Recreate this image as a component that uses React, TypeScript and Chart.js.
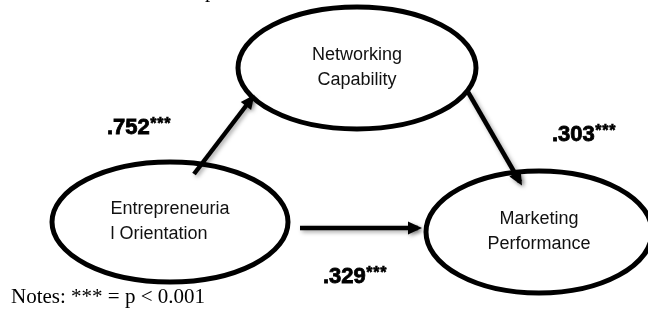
import React, { useEffect, useRef } from "react";
import { Chart, registerables } from "chart.js";

Chart.register(...registerables);

// Constructs (ellipses) of the path model
const nodeNames: string[][] = [
  ["Networking", "Capability"],
  ["Entrepreneuria", "l Orientation"],
  ["Marketing", "Performance"],
];
const nodeCX = [357, 170, 539];
const nodeCY = [68, 222, 232];
const nodeRX = [119, 118, 113];
const nodeRY = [61, 60, 61];
const nodeAlign = ["center", "left", "center"];

// Paths (arrows)
const pathFromX = [194, 468, 300];
const pathFromY = [174, 92, 228];
const pathToX = [252, 520, 418];
const pathToY = [98, 182, 228];

// Path coefficients
const coefficients = [".752", ".303", ".329"];
const significance = ["***", "***", "***"];
const coefX = [107, 552, 323];
const coefTop = [118, 125, 267];

const noteText = "Notes: *** = p < 0.001";

const SANS = '"Liberation Sans", Arial, sans-serif';
const SERIF = '"Liberation Serif", "Times New Roman", serif';

const diagramPlugin = {
  id: "diagram",
  beforeDatasetsDraw(chart: any) {
    const { ctx, scales } = chart;
    const xs = scales.x;
    const ys = scales.y;
    ctx.save();
    // cut-off title fragment
    ctx.fillStyle = "#000";
    ctx.font = `21px ${SERIF}`;
    ctx.textBaseline = "alphabetic";
    ctx.fillText("p", 205, -3);
    nodeNames.forEach((lines, i) => {
      const cx = xs.getPixelForValue(nodeCX[i]);
      const cy = ys.getPixelForValue(nodeCY[i]);
      const rx = Math.abs(xs.getPixelForValue(nodeCX[i] + nodeRX[i]) - cx);
      const ry = Math.abs(ys.getPixelForValue(nodeCY[i] + nodeRY[i]) - cy);
      ctx.beginPath();
      ctx.ellipse(cx, cy, rx, ry, 0, 0, Math.PI * 2);
      ctx.fillStyle = "#fff";
      ctx.fill();
      ctx.lineWidth = 5;
      ctx.strokeStyle = "#000";
      ctx.stroke();
      ctx.fillStyle = "#111";
      ctx.font = `18px ${SANS}`;
      ctx.textBaseline = "middle";
      const lh = 25;
      const maxW = Math.max(...lines.map((l) => ctx.measureText(l).width));
      lines.forEach((l, j) => {
        const y = cy + (j - (lines.length - 1) / 2) * lh;
        if (nodeAlign[i] === "left") {
          ctx.textAlign = "left";
          ctx.fillText(l, cx - maxW / 2, y);
        } else {
          ctx.textAlign = "center";
          ctx.fillText(l, cx, y);
        }
      });
    });
    ctx.restore();
  },
  beforeDatasetDraw(chart: any) {
    const ctx = chart.ctx;
    ctx.save();
    ctx.shadowColor = "rgba(0,0,0,0.35)";
    ctx.shadowBlur = 4;
    ctx.shadowOffsetX = 2;
    ctx.shadowOffsetY = 2;
  },
  afterDatasetDraw(chart: any, args: any) {
    const { ctx, scales } = chart;
    const i = args.index;
    const x1 = scales.x.getPixelForValue(pathFromX[i]);
    const y1 = scales.y.getPixelForValue(pathFromY[i]);
    const x2 = scales.x.getPixelForValue(pathToX[i]);
    const y2 = scales.y.getPixelForValue(pathToY[i]);
    const len = Math.hypot(x2 - x1, y2 - y1);
    const dx = (x2 - x1) / len;
    const dy = (y2 - y1) / len;
    const tipX = x2 + dx * 4;
    const tipY = y2 + dy * 4;
    const bx = x2 - dx * 10;
    const by = y2 - dy * 10;
    const hw = 6.5;
    ctx.beginPath();
    ctx.moveTo(tipX, tipY);
    ctx.lineTo(bx - dy * hw, by + dx * hw);
    ctx.lineTo(bx + dy * hw, by - dx * hw);
    ctx.closePath();
    ctx.fillStyle = "#000";
    ctx.fill();
    ctx.restore();
  },
  afterDatasetsDraw(chart: any) {
    const { ctx, scales } = chart;
    ctx.save();
    ctx.fillStyle = "#000";
    ctx.strokeStyle = "#000";
    ctx.textAlign = "left";
    coefficients.forEach((c, i) => {
      const x = scales.x.getPixelForValue(coefX[i]);
      const top = scales.y.getPixelForValue(coefTop[i]);
      ctx.font = `bold 22px ${SANS}`;
      const m = ctx.measureText(c);
      ctx.textBaseline = "alphabetic";
      const capH = 15.5;
      ctx.lineWidth = 0.8;
      ctx.fillText(c, x, top + capH);
      ctx.strokeText(c, x, top + capH);
      ctx.font = `bold 16px ${SANS}`;
      ctx.lineWidth = 0.6;
      const stars = significance[i];
      for (let k = 0; k < stars.length; k++) {
        const sx = x + m.width + 0.5 + k * 7;
        ctx.fillText(stars[k], sx, top + 11);
        ctx.strokeText(stars[k], sx, top + 11);
      }
    });
    ctx.font = `21px ${SERIF}`;
    ctx.textBaseline = "alphabetic";
    ctx.fillText(noteText, 11, 303);
    ctx.restore();
  },
};

export default function App() {
  const ref = useRef<HTMLCanvasElement | null>(null);
  useEffect(() => {
    if (!ref.current) return;
    const datasets = pathFromX.map((_, i) => ({
      label: `path${i}`,
      data: [
        { x: pathFromX[i], y: pathFromY[i] },
        { x: pathToX[i], y: pathToY[i] },
      ],
      showLine: true,
      borderColor: "#000",
      backgroundColor: "#000",
      borderWidth: 4.5,
      pointRadius: 0,
      pointHoverRadius: 0,
      borderCapStyle: "butt" as const,
    }));
    const chart = new Chart(ref.current, {
      type: "scatter",
      data: { datasets },
      options: {
        animation: false,
        responsive: false,
        maintainAspectRatio: false,
        layout: { padding: 0 },
        plugins: {
          legend: { display: false },
          tooltip: { enabled: false },
          title: { display: false },
        },
        events: [],
        scales: {
          x: { type: "linear", min: 0, max: 648, display: false },
          y: { type: "linear", min: 0, max: 309, reverse: true, display: false },
        },
      },
      plugins: [diagramPlugin],
    });
    return () => chart.destroy();
  }, []);
  return (
    <div style={{ position: "absolute", left: 0, top: 0, width: 648, height: 309, background: "#fff" }}>
      <canvas ref={ref} width={648} height={309} style={{ display: "block", width: 648, height: 309 }} />
    </div>
  );
}
